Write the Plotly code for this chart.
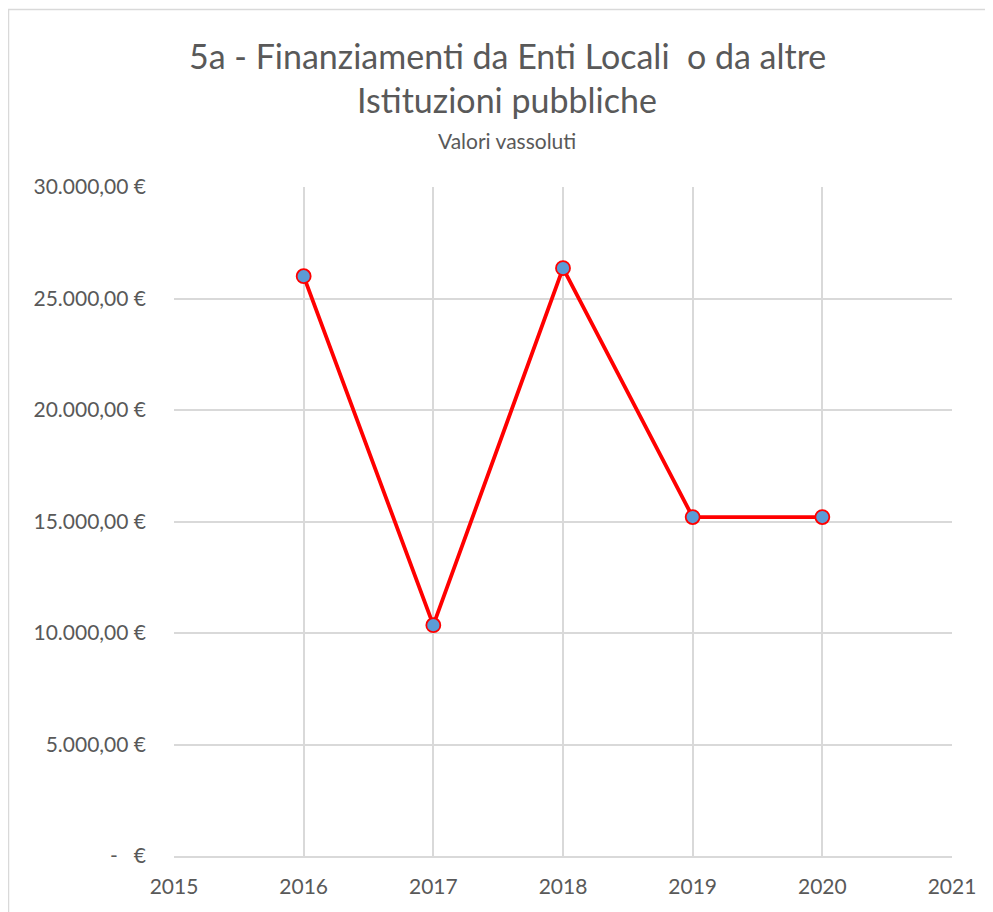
import plotly.graph_objects as go

years = [2016, 2017, 2018, 2019, 2020]
values = [26000, 10350, 26360, 15200, 15200]

x_ticks = [2015, 2016, 2017, 2018, 2019, 2020, 2021]
y_ticks = [0, 5000, 10000, 15000, 20000, 25000, 30000]
y_labels = ["-   €", "5.000,00 €", "10.000,00 €", "15.000,00 €",
            "20.000,00 €", "25.000,00 €", "30.000,00 €"]

title_line1 = "5a - Finanziamenti da Enti Locali  o da altre"
title_line2 = "Istituzioni pubbliche"
subtitle = "Valori vassoluti"

FONT = "Lato"
TXT = "#595959"
GRID = "#d9d9d9"

# page has an 8px body margin; plot area target: x 174..952, y 187..856
OFF = 8
W, H = 993 - OFF, 912 - OFF
L, T = 174 - OFF, 187 - OFF
R, B = 993 - 952, 912 - 856
PW, PH = 952 - 174, 856 - 187

def py(pix):
    return (856 - pix) / PH

def px(pix):
    return (pix - 174) / PW

fig = go.Figure()
fig.add_trace(go.Scatter(
    x=years, y=values, mode="lines+markers",
    line=dict(color="#FF0000", width=3.8),
    marker=dict(size=14, color="#5B9BD5", line=dict(color="#FF0000", width=1.8)),
    showlegend=False, hoverinfo="x+y",
))

fig.update_layout(
    width=W, height=H,
    margin=dict(l=L, r=R, t=T, b=B, autoexpand=False),
    paper_bgcolor="white", plot_bgcolor="white",
    font=dict(family=FONT, color=TXT, size=20),
    xaxis=dict(range=[2015, 2021], tickvals=x_ticks, ticktext=[str(v) for v in x_ticks],
               showgrid=True, gridcolor=GRID, gridwidth=1.5,
               showline=True, linecolor=GRID, linewidth=1.5,
               zeroline=False, ticks="", ticklabelstandoff=11,
               tickfont=dict(family=FONT, size=21, color=TXT)),
    yaxis=dict(range=[0, 30000], tickvals=y_ticks, ticktext=y_labels,
               showgrid=True, gridcolor=GRID, gridwidth=1.5,
               zeroline=False, showline=False, ticks="", ticklabelstandoff=27,
               tickfont=dict(family=FONT, size=21, color=TXT)),
    shapes=[dict(type="rect", xref="paper", yref="paper",
                 x0=px(8.5), x1=1.2, y0=-0.3, y1=py(9.5),
                 line=dict(color=GRID, width=1.5), fillcolor="rgba(0,0,0,0)", layer="below")],
    annotations=[
        dict(text=title_line1, xref="paper", yref="paper", x=px(507), y=py(55),
             xanchor="center", yanchor="middle", showarrow=False,
             font=dict(family=FONT, size=34, color=TXT)),
        dict(text=title_line2, xref="paper", yref="paper", x=px(507), y=py(99),
             xanchor="center", yanchor="middle", showarrow=False,
             font=dict(family=FONT, size=34, color=TXT)),
        dict(text=subtitle, xref="paper", yref="paper", x=px(507), y=py(140),
             xanchor="center", yanchor="middle", showarrow=False,
             font=dict(family=FONT, size=21, color=TXT)),
    ],
)

fig.write_html("out.html")
